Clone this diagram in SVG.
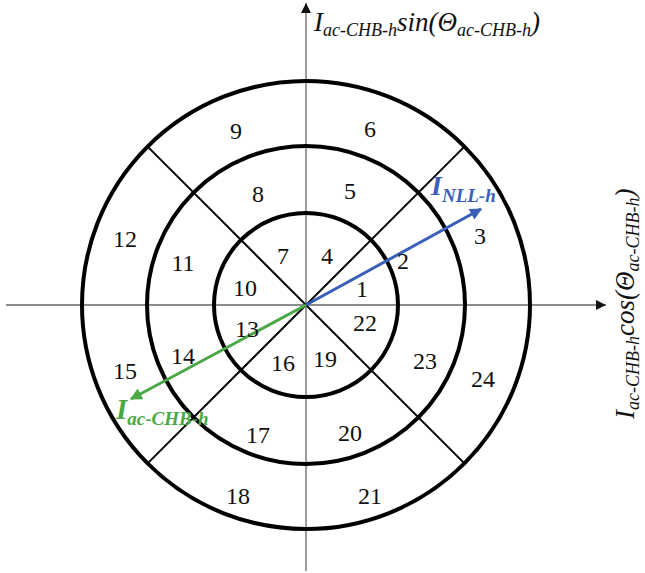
<svg xmlns="http://www.w3.org/2000/svg" width="645" height="573" viewBox="0 0 645 573">
<defs>
<style>
.ring{fill:none;stroke:#000;stroke-width:4}
.diag{stroke:#000;stroke-width:2}
.axis{stroke:#666;stroke-width:1.3;fill:none}
.num{font-family:"Liberation Serif","Times New Roman",serif;font-size:24px;fill:#111;text-anchor:middle}
.lab{font-family:"Liberation Serif","Times New Roman",serif;font-style:italic;font-size:27px;fill:#111}
.vec{font-family:"Liberation Serif","Times New Roman",serif;font-style:italic;font-weight:bold}
</style>
<marker id="axhead" viewBox="0 0 10 10" refX="10" refY="5" markerWidth="10" markerHeight="10" markerUnits="userSpaceOnUse" orient="auto">
<path d="M0,0 L10,5 L0,10 z" fill="#111"/>
</marker>
<marker id="bluehead" viewBox="0 0 10 10" refX="9" refY="5" markerWidth="16" markerHeight="12" markerUnits="userSpaceOnUse" orient="auto">
<path d="M0,0 L10,5 L0,10 z" fill="#3a5fb8"/>
</marker>
<marker id="greenhead" viewBox="0 0 10 10" refX="9" refY="5" markerWidth="16" markerHeight="12" markerUnits="userSpaceOnUse" orient="auto">
<path d="M0,0 L10,5 L0,10 z" fill="#4aa846"/>
</marker>
</defs>
<rect width="645" height="573" fill="#fff"/>
<g id="axes">
<line class="axis" x1="6" y1="305" x2="606" y2="305" marker-end="url(#axhead)"/>
<line class="axis" x1="306" y1="571" x2="306" y2="3" marker-end="url(#axhead)"/>
</g>
<g id="rings">
<circle id="ring-inner" class="ring" cx="306" cy="305" r="92"/>
<circle id="ring-middle" class="ring" cx="306" cy="305" r="159"/>
<circle id="ring-outer" class="ring" cx="306" cy="305" r="224"/>
</g>
<g id="connectors">
<line class="diag" x1="147.6" y1="146.6" x2="464.4" y2="463.4"/>
<line class="diag" x1="464.4" y1="146.6" x2="147.6" y2="463.4"/>
<line x1="306" y1="305" x2="481" y2="209" stroke="#3a5fb8" stroke-width="3" marker-end="url(#bluehead)"/>
<line x1="306" y1="305" x2="131" y2="399" stroke="#4aa846" stroke-width="3" marker-end="url(#greenhead)"/>
</g>
<g id="sectors">
<text class="num" x="236" y="139">9</text>
<text class="num" x="370" y="137">6</text>
<text class="num" x="258" y="202">8</text>
<text class="num" x="350" y="199">5</text>
<text class="num" x="125" y="247">12</text>
<text class="num" x="183" y="271">11</text>
<text class="num" x="283" y="264">7</text>
<text class="num" x="327" y="264">4</text>
<text class="num" x="403" y="269">2</text>
<text class="num" x="480" y="244">3</text>
<text class="num" x="245" y="296">10</text>
<text class="num" x="362" y="297">1</text>
<text class="num" x="247" y="337">13</text>
<text class="num" x="365" y="331">22</text>
<text class="num" x="425" y="369">23</text>
<text class="num" x="483" y="387">24</text>
<text class="num" x="183" y="364">14</text>
<text class="num" x="283" y="371">16</text>
<text class="num" x="325" y="367">19</text>
<text class="num" x="125" y="379">15</text>
<text class="num" x="258" y="443">17</text>
<text class="num" x="350" y="441">20</text>
<text class="num" x="238" y="504">18</text>
<text class="num" x="370" y="504">21</text>
</g>
<g id="label-y">
<text class="lab" x="314" y="31">I<tspan font-size="18" dy="5">ac-CHB-h</tspan><tspan dy="-5">sin(Θ</tspan><tspan font-size="18" dy="5">ac-CHB-h</tspan><tspan dy="-5">)</tspan></text>
</g>
<g id="label-x">
<text class="lab" transform="translate(634,419) rotate(-90)" x="0" y="0">I<tspan font-size="18" dy="5">ac-CHB-h</tspan><tspan dy="-5">cos(Θ</tspan><tspan font-size="18" dy="5">ac-CHB-h</tspan><tspan dy="-5">)</tspan></text>
</g>
<g id="label-nll">
<text class="vec" x="431" y="195" font-size="28" fill="#3a5fb8">I<tspan font-size="19" dy="7">NLL-h</tspan></text>
</g>
<g id="label-chb">
<text class="vec" x="116" y="419" font-size="29" fill="#4aa846">I<tspan font-size="19" dy="6">ac-CHB-h</tspan></text>
</g>
</svg>
